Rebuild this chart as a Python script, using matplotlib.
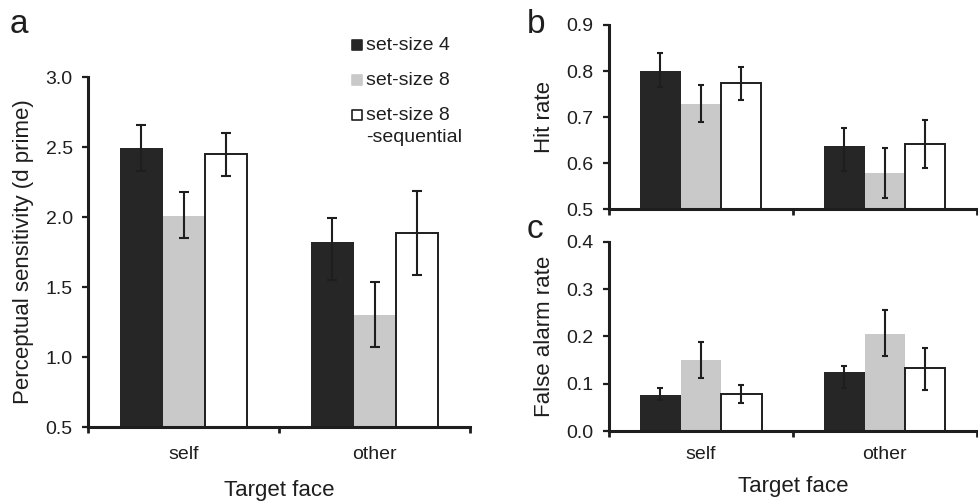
import numpy as np
import matplotlib
matplotlib.use("Agg")
import matplotlib.pyplot as plt

plt.rcParams['font.family'] = ['Liberation Sans', 'DejaVu Sans']
plt.rcParams['text.color'] = '#1e1e1e'
plt.rcParams['axes.labelcolor'] = '#1e1e1e'
plt.rcParams['xtick.color'] = '#1e1e1e'
plt.rcParams['ytick.color'] = '#1e1e1e'

# data (error bars are not symmetric around the bar tops)
categories = ["self", "other"]
series_labels = ["set-size 4", "set-size 8", "set-size 8\n-sequential"]
series_colors = ["#262626", "#c8c9c8", "#ffffff"]

dprime_means = [[2.49, 1.823], [2.01, 1.30], [2.45, 1.888]]
dprime_err_lo = [[0.16, 0.273], [0.16, 0.226], [0.155, 0.305]]
dprime_err_hi = [[0.165, 0.167], [0.166, 0.236], [0.148, 0.300]]

hit_means = [[0.800, 0.637], [0.729, 0.578], [0.775, 0.641]]
hit_err_lo = [[0.035, 0.054], [0.040, 0.054], [0.037, 0.052]]
hit_err_hi = [[0.040, 0.040], [0.040, 0.054], [0.034, 0.053]]

fa_means = [[0.077, 0.125], [0.149, 0.206], [0.079, 0.133]]
fa_err_lo = [[0.0115, 0.034], [0.037, 0.048], [0.019, 0.0457]]
fa_err_hi = [[0.0145, 0.012], [0.038, 0.0497], [0.019, 0.0424]]

bar_w = 0.22
dark = '#1e1e1e'


def draw_panel(ax, means, err_lo, err_hi, ylim, yticks, ylabel, show_x, capsize,
               xpad=14, xlabelpad=12):
    x = np.arange(len(categories)) + 0.5
    for i, col in enumerate(series_colors):
        pos = x + (i - 1) * bar_w
        m = means[i]
        if col == "#ffffff":
            ax.bar(pos, m, bar_w, color=col, edgecolor=dark, linewidth=1.4, zorder=2)
        else:
            ax.bar(pos, m, bar_w, color=col, linewidth=0, zorder=2)
        ax.errorbar(pos, m, yerr=[err_lo[i], err_hi[i]], fmt='none', ecolor=dark,
                    elinewidth=1.5, capsize=capsize, capthick=1.5, zorder=3)
    ax.set_xlim(0, len(categories))
    ax.set_ylim(*ylim)
    ax.set_yticks(yticks)
    ax.set_yticklabels([f"{t:.1f}" for t in yticks])
    for s in ['top', 'right']:
        ax.spines[s].set_visible(False)
    for s in ['left', 'bottom']:
        ax.spines[s].set_linewidth(2.2)
        ax.spines[s].set_color(dark)
    ax.tick_params(axis='y', direction='out', length=4, width=1.6, pad=7, labelsize=14)
    ax.set_xticks(x)
    ax.set_xticks(np.arange(len(categories) + 1), minor=True)
    ax.tick_params(axis='x', which='major', length=0, pad=xpad, labelsize=14)
    ax.tick_params(axis='x', which='minor', direction='out', length=4, width=2)
    if show_x:
        ax.set_xticklabels(categories)
        ax.set_xlabel("Target face", fontsize=16, labelpad=xlabelpad)
    else:
        ax.set_xticklabels([])
    ax.set_ylabel(ylabel, fontsize=16, labelpad=8)


fig = plt.figure(figsize=(9.79, 5.01), dpi=100)
ax_a = fig.add_axes([0.0899, 0.1477, 0.3902, 0.6986])
ax_b = fig.add_axes([0.6218, 0.5822, 0.3759, 0.3679])
ax_c = fig.add_axes([0.6220, 0.1397, 0.3757, 0.3779])

draw_panel(ax_a, dprime_means, dprime_err_lo, dprime_err_hi, (0.5, 3.0),
           np.arange(0.5, 3.01, 0.5), "Perceptual sensitivity (d prime)", True, 3.3)
draw_panel(ax_b, hit_means, hit_err_lo, hit_err_hi, (0.5, 0.9),
           np.arange(0.5, 0.91, 0.1), "Hit rate", False, 2)
draw_panel(ax_c, fa_means, fa_err_lo, fa_err_hi, (0.0, 0.4),
           np.arange(0.0, 0.41, 0.1), "False alarm rate", True, 2,
           xpad=11, xlabelpad=9)

# legend drawn by hand so the square sits on the first line of each entry
for i, (lab, col) in enumerate(zip(series_labels, series_colors)):
    y = 1.091 - i * 0.1
    ax_a.scatter([0.703], [y], marker='s', s=55, facecolor=col,
                 edgecolor=dark if col == "#ffffff" else col, linewidth=1.2,
                 transform=ax_a.transAxes, clip_on=False, zorder=5)
    lines = lab.split("\n")
    for j, line in enumerate(lines):
        ax_a.text(0.728, y - j * 0.063, line, transform=ax_a.transAxes,
                  va='center', ha='left', fontsize=14)

fig.text(0.010, 0.934, "a", fontsize=24, va='baseline')
fig.text(0.538, 0.934, "b", fontsize=24, va='baseline')
fig.text(0.538, 0.525, "c", fontsize=24, va='baseline')

fig.savefig("out.png", dpi=100)
